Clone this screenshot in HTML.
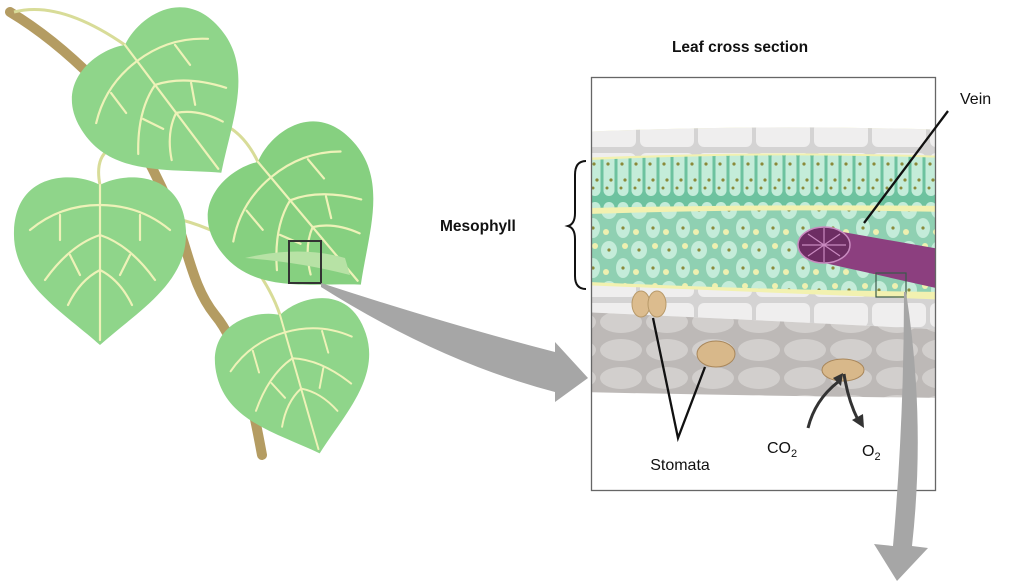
<!DOCTYPE html>
<html><head><meta charset="utf-8"><style>
body{margin:0;background:#fff;}
svg{display:block;font-family:"Liberation Sans",Arial,sans-serif;}
</style></head><body>
<svg width="1023" height="582" viewBox="0 0 1023 582" xmlns="http://www.w3.org/2000/svg">
<defs>
<path id="leaf" d="M0,0 C-25,-14 -84,-14 -86,46 C-88,98 -38,126 0,160 C38,126 88,98 86,46 C84,-14 25,-14 0,0Z"/>
<g id="veins" fill="none" stroke="#eef2b8" stroke-width="2.2" stroke-linecap="round">
<path d="M0,0 L0,155"/>
<path d="M0,20 Q-40,20 -70,45 M0,20 Q40,20 70,45"/>
<path d="M0,50 Q-30,60 -55,95 M0,50 Q30,60 55,95"/>
<path d="M0,85 Q-20,95 -32,120 M0,85 Q20,95 32,120"/>
<path d="M-40,30 L-40,55 M40,30 L40,55 M-30,70 L-20,90 M30,70 L20,90"/>
</g>
<pattern id="pal" x="0" y="0" width="14" height="50" patternUnits="userSpaceOnUse">
<rect width="14" height="50" fill="#6dc29f"/>
<rect x="1.5" y="2" width="11" height="44" rx="5.5" fill="#c4ecd9"/>
<circle cx="6" cy="14" r="1.6" fill="#8a8a3a"/><circle cx="9" cy="30" r="1.6" fill="#8a8a3a"/><circle cx="5" cy="38" r="1.5" fill="#8a8a3a"/>
</pattern>
<pattern id="spo" x="0" y="0" width="30" height="40" patternUnits="userSpaceOnUse">
<rect width="30" height="40" fill="#8fd0b2"/>
<ellipse cx="9" cy="10" rx="8" ry="9" fill="#c4ecd9"/>
<ellipse cx="23" cy="28" rx="7" ry="10" fill="#c4ecd9"/>
<circle cx="9" cy="10" r="1.6" fill="#8a8a3a"/><circle cx="23" cy="28" r="1.6" fill="#8a8a3a"/>
<circle cx="25" cy="6" r="3" fill="#eef0b0"/><circle cx="6" cy="32" r="3" fill="#eef0b0"/>
</pattern>
<pattern id="epi" x="0" y="0" width="58" height="30" patternUnits="userSpaceOnUse">
<rect width="58" height="30" fill="#d4d3d3"/>
<rect x="2" y="3" width="54" height="24" rx="6" fill="#efeeee"/>
</pattern>
<pattern id="low" x="0" y="0" width="46" height="28" patternUnits="userSpaceOnUse">
<rect width="46" height="28" fill="#bdb9b7"/>
<ellipse cx="23" cy="14" rx="21" ry="11" fill="#d2cfcd"/>
</pattern>
<clipPath id="box"><rect x="592" y="78" width="344" height="412"/></clipPath>
</defs>

<path d="M10,12 C40,30 70,55 95,80 C130,120 160,180 178,225 C190,260 195,290 215,315 C240,345 252,400 262,455" fill="none" stroke="#b49c62" stroke-width="10" stroke-linecap="round"/>
<path d="M14,12 Q60,0 125,45 M100,185 Q95,160 108,150 M182,220 Q200,225 215,232 M225,125 Q245,135 258,162 M245,255 Q270,285 280,315" fill="none" stroke="#d8dc98" stroke-width="3"/>

<g transform="translate(125,45) rotate(-37)"><use href="#leaf" fill="#8fd58a"/><use href="#veins"/></g>
<g transform="translate(100,185)"><use href="#leaf" fill="#8fd58a"/><use href="#veins"/></g>
<g transform="translate(258,162) rotate(-40)"><use href="#leaf" fill="#86d080"/><use href="#veins"/></g>
<path d="M245,258 Q300,245 345,258 L350,275 Q300,262 245,258Z" fill="#b7e2a5"/>
<g transform="translate(280,315) rotate(-16) scale(0.9)"><use href="#leaf" fill="#8fd58a"/><use href="#veins"/></g>
<rect x="289" y="241" width="32" height="42" fill="none" stroke="#333" stroke-width="2"/>

<path d="M321,283 Q450,325 555,352 L555,342 L588,378 L555,402 L555,392 Q440,362 321,287 Z" fill="#a6a6a6"/>

<g clip-path="url(#box)">
<rect x="592" y="78" width="344" height="412" fill="#fff"/>
<path d="M580,132 Q760,124 950,130 L950,300 L580,300Z" fill="#f2f1b0"/>
<path d="M580,132 Q760,124 950,130 L950,156 Q760,150 580,158Z" fill="url(#epi)"/>
<path d="M590,160 Q760,152 950,158 L950,206 Q760,204 590,208Z" fill="url(#pal)"/>
<path d="M590,214 Q760,208 950,212 L950,292 Q760,290 590,282Z" fill="url(#spo)"/>
<path d="M580,285 Q760,292 950,300 L950,330 Q760,320 580,312Z" fill="url(#epi)"/>
<path d="M580,312 Q760,320 950,330 L950,398 Q760,396 580,392Z" fill="url(#low)"/>
<path d="M820,228 L945,250 L945,290 L820,262Z" fill="#8c3f7f"/>
<ellipse cx="824" cy="245" rx="26" ry="18" fill="#6d2d63" stroke="#c98ac0" stroke-width="1.5"/>
<g fill="none" stroke="#c98ac0" stroke-width="1.2"><path d="M802,245 H846 M824,228 V262 M808,234 L840,256 M808,256 L840,234"/></g>
<ellipse cx="641" cy="304" rx="9" ry="13" fill="#dcbc8e" stroke="#b89a6a"/>
<ellipse cx="657" cy="304" rx="9" ry="13" fill="#dcbc8e" stroke="#b89a6a"/>
<ellipse cx="716" cy="354" rx="19" ry="13" fill="#d8b88a" stroke="#a8865a"/>
<ellipse cx="843" cy="370" rx="21" ry="11" fill="#d8b88a" stroke="#a8865a"/>
<rect x="876" y="273" width="30" height="24" fill="none" stroke="#3a5a4a" stroke-width="1.2"/>
</g>
<rect x="591.5" y="77.5" width="344" height="413" fill="none" stroke="#666" stroke-width="1.3"/>

<path d="M906,292 Q926,420 912,546 L928,548 L897,581 L874,544 L893,546 Q904,420 904,292 Z" fill="#a6a6a6"/>

<text x="740" y="52" font-size="15.5" font-weight="bold" text-anchor="middle" fill="#111">Leaf cross section</text>
<text x="440" y="231" font-size="15.5" font-weight="bold" fill="#111">Mesophyll</text>
<path d="M586,161 Q575,161 575,175 L575,213 Q575,224 568,226 Q575,228 575,239 L575,276 Q575,289 586,289" fill="none" stroke="#111" stroke-width="2"/>
<text x="960" y="104" font-size="16" fill="#111">Vein</text>
<line x1="948" y1="111" x2="864" y2="223" stroke="#111" stroke-width="2.3"/>
<polyline points="653,318 678,438 705,367" fill="none" stroke="#111" stroke-width="2.3"/>
<text x="680" y="470" font-size="16" text-anchor="middle" fill="#111">Stomata</text>
<path d="M808,428 Q815,400 838,382" fill="none" stroke="#333" stroke-width="3"/>
<path d="M833,378 L843,373 L841,386Z" fill="#333"/>
<path d="M844,374 Q848,400 858,420" fill="none" stroke="#333" stroke-width="3"/>
<path d="M852,420 L864,428 L863,414Z" fill="#333"/>
<text x="767" y="453" font-size="16" fill="#111">CO<tspan font-size="11" dy="4">2</tspan></text>
<text x="862" y="456" font-size="16" fill="#111">O<tspan font-size="11" dy="4">2</tspan></text>
</svg>
</body></html>
